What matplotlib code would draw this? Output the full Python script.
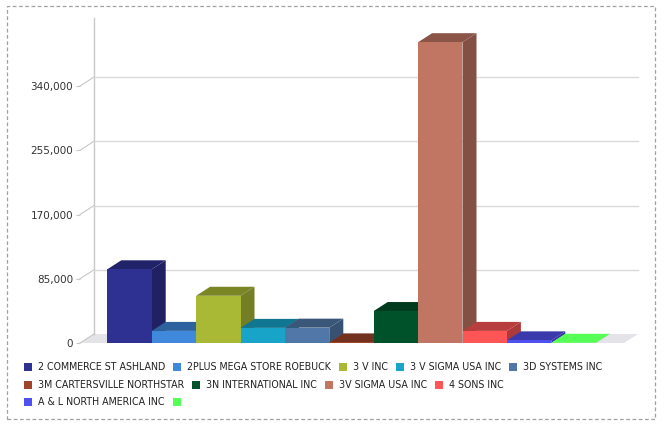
import numpy as np
import matplotlib
matplotlib.use("Agg")
import matplotlib.pyplot as plt
from matplotlib.patches import Polygon, Rectangle
from matplotlib.colors import to_rgb

# data
companies = ['2 COMMERCE ST ASHLAND', '2PLUS MEGA STORE ROEBUCK', '3 V INC',
             '3 V SIGMA USA INC', '3D SYSTEMS INC', '3M CARTERSVILLE NORTHSTAR',
             '3N INTERNATIONAL INC', '3V SIGMA USA INC', '4 SONS INC',
             'A & L NORTH AMERICA INC', '']
values = [97500, 16000, 62500, 20000, 20300, 800, 42300, 398000, 16000, 3500, 300]
colors = ['#2E3192', '#3F88DB', '#AAB935', '#18A4C9', '#5077A8', '#A0452B',
          '#00522A', '#C07662', '#FF5555', '#5050F0', '#55FF55']
yticks = [0, 85000, 170000, 255000, 340000]
ytick_labels = ['0', '85,000', '170,000', '255,000', '340,000']

W, H = 664, 424
fig = plt.figure(figsize=(W/100, H/100), dpi=100)

# plot area in pixels: bars 44.4 px wide, first bar centre at x=129.5, zero at y=343
px_bar = 44.4
x_left = (80 - 129.5)/px_bar
x_right = x_left + 560/px_bar
ymax = 430000
ax = fig.add_axes([80/W, (H-343)/H, 560/W, 325/H])
ax.set_xlim(x_left, x_right)
ax.set_ylim(0, ymax)

DX = 14/px_bar                 # depth offset, bar units
DY = 9*340000/257              # depth offset, value units
x_floor_r = (624 - 129.5)/px_bar

# floor
ax.add_patch(Polygon([(x_left, 0), (x_floor_r, 0), (x_floor_r+DX, DY), (x_left+DX, DY)],
                     closed=True, fc='#E4E4E8', ec='none', zorder=1))
# back wall axis + grid
ax.plot([x_left+DX, x_left+DX], [DY, ymax], color='#C8C8C8', lw=1, zorder=1, clip_on=False)
for v in yticks[1:]:
    ax.plot([x_left+DX, x_floor_r+DX], [v+DY, v+DY], color='#DADADA', lw=1, zorder=1)
for v in yticks:
    ax.plot([x_left, x_left+DX], [v, v+DY], color='#C8C8C8', lw=0.8, zorder=1, clip_on=False)

def shade(c, f=0.7):
    r, g, b = to_rgb(c)
    return (r*f, g*f, b*f)

top_shade = [0.72]*10 + [1.0]

for i, (v, c) in enumerate(zip(values, colors)):
    x0, x1 = i-0.5, i+0.5
    z = 2 + i
    ax.add_patch(Polygon([(x1, 0), (x1+DX, DY), (x1+DX, v+DY), (x1, v)], closed=True,
                         fc=shade(c, 0.68), ec='none', zorder=z))
    ax.add_patch(Polygon([(x0, v), (x1, v), (x1+DX, v+DY), (x0+DX, v+DY)], closed=True,
                         fc=shade(c, top_shade[i]), ec='none', zorder=z))
    ax.add_patch(Rectangle((x0, 0), 1, v, fc=c, ec='none', zorder=z))

for s in ax.spines.values():
    s.set_visible(False)
ax.set_xticks([])
ax.set_yticks(yticks, ytick_labels)
ax.tick_params(axis='y', length=3, width=0.8, color='#C8C8C8', pad=2,
               labelsize=7.5, labelcolor='#333333')

# legend, flowing left to right
fig.canvas.draw()
r = fig.canvas.get_renderer()
lx, ly = 24, 367
for name, c in zip(companies, colors):
    t = fig.text(0, 0, name, fontsize=6.85, color='#222222', va='center', ha='left')
    tw = t.get_window_extent(r).width if name else 0
    if lx + 14 + tw > 640:
        lx, ly = 24, ly + 17.5
    fig.patches.append(Rectangle((lx/W, (H-ly-4)/H), 8/W, 8/H, transform=fig.transFigure,
                                 fc=c, ec='none'))
    t.set_position(((lx+14)/W, (H-ly)/H))
    lx += 14 + tw + 8

# dashed outer border
fig.patches.append(Rectangle((7/W, (H-419)/H), 648/W, 413/H, transform=fig.transFigure,
                             fill=False, ec='#A0A0A0', lw=0.9, ls=(0, (3, 2))))

plt.savefig('out.png', dpi=100)
